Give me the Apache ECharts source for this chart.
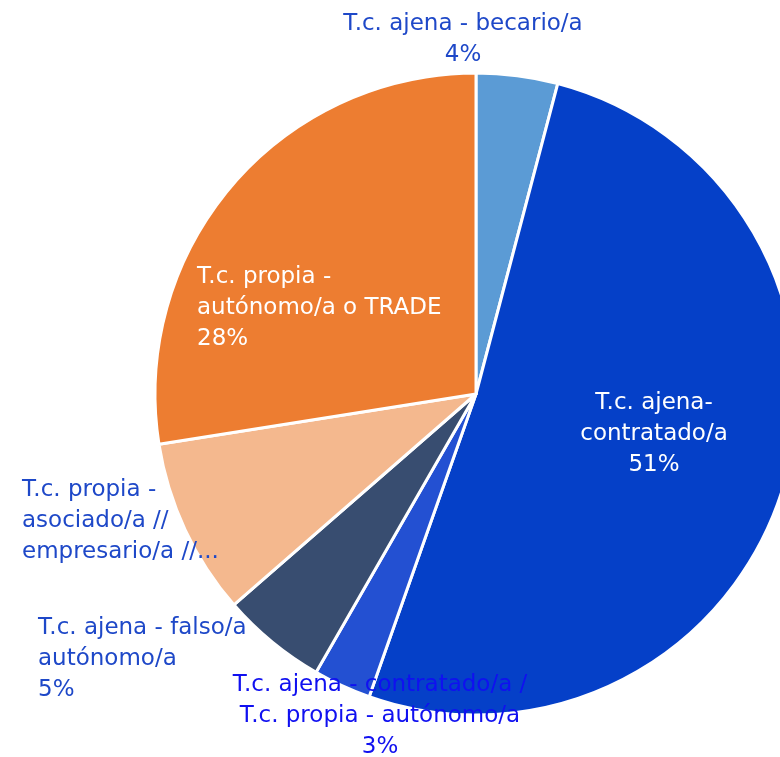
<!DOCTYPE html>
<html>
<head>
<meta charset="utf-8">
<script src="https://cdn.jsdelivr.net/npm/echarts@6/dist/echarts.min.js"></script>
<style>
  html, body { margin: 0; padding: 0; background: #fff; }
  #chart { width: 780px; height: 757px; }
</style>
</head>
<body>
<div id="chart"></div>
<script>
// slices clockwise from 12 o'clock
const categories = [
  'T.c. ajena - becario/a',
  'T.c. ajena-\ncontratado/a',
  'T.c. ajena - contratado/a /\nT.c. propia - autónomo/a',
  'T.c. ajena - falso/a\nautónomo/a',
  'T.c. propia -\nasociado/a //\nempresario/a //...',
  'T.c. propia -\nautónomo/a o TRADE',
];
const shares = [4.1, 51.3, 2.9, 5.3, 8.9, 27.5];
const showPct = [true, true, true, true, false, true];

const sliceColors = ['#5B9BD5', '#0540C8', '#2350D2', '#384D70', '#F4B88E', '#ED7D31'];
const labelColors = ['#1E48C8', '#ffffff', '#1010F0', '#1E48C8', '#1E48C8', '#ffffff'];
// label anchor [x, y, align]
const labelSpots = [
  [463, 40, 'center'],
  [654, 434, 'center'],
  [380, 716, 'center'],
  [38, 659, 'left'],
  [22, 521, 'left'],
  [197, 308, 'left'],
];

const chart = echarts.init(document.getElementById('chart'));
chart.setOption({
  animation: false,
  series: [{
    type: 'pie',
    center: [476, 394],
    radius: 321,
    startAngle: 90,
    clockwise: true,
    avoidLabelOverlap: false,
    itemStyle: { borderColor: '#fff', borderWidth: 3 },
    labelLine: { show: false },
    label: {
      show: true,
      position: 'inside',
      fontFamily: 'DejaVu Sans',
      fontSize: 23,
      lineHeight: 31,
      formatter: (p) => showPct[p.dataIndex]
        ? p.name + '\n' + Math.round(p.value) + '%'
        : p.name,
    },
    labelLayout: (p) => {
      const s = labelSpots[p.dataIndex];
      return { x: s[0], y: s[1], align: s[2], verticalAlign: 'middle' };
    },
    data: categories.map((name, i) => ({
      name,
      value: shares[i],
      itemStyle: { color: sliceColors[i] },
      label: { color: labelColors[i], align: labelSpots[i][2] },
    })),
  }],
});
</script>
</body>
</html>
